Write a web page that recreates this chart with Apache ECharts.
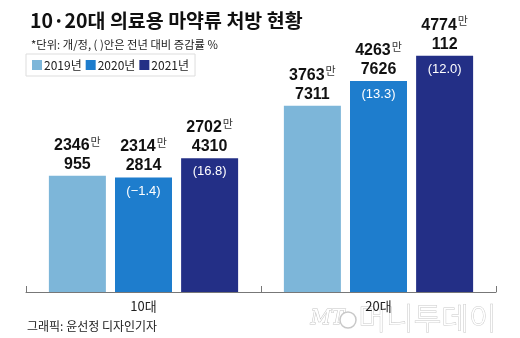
<!DOCTYPE html>
<html>
<head>
<meta charset="utf-8">
<script src="https://cdn.jsdelivr.net/npm/echarts@6/dist/echarts.min.js"></script>
<style>html,body{margin:0;padding:0;background:#fff;}#c{width:520px;height:338px;}</style>
</head>
<body>
<div id="c"></div>
<script>
const categories = ['10대', '20대'];
const seriesNames = ['2019년', '2020년', '2021년'];
const values2019 = [23460955, 37637311];
const values2020 = [23142814, 42637626];
const values2021 = [27024310, 47740112];
const change2019 = ['', ''];
const change2020 = ['−1.4', '13.3'];
const change2021 = ['16.8', '12.0'];

const colors = ['#7db6d9', '#1e7dcd', '#232f86'];
const values = [values2019, values2020, values2021];
const changes = [change2019, change2020, change2021];

const numFont = '"Liberation Sans Narrow", "Arial Narrow", "Liberation Sans", sans-serif';
const krFont = '"Noto Sans CJK KR", sans-serif';

function topLabel(p) {
  const v = p.value;
  const man = Math.floor(v / 10000);
  const rest = v % 10000;
  return '{n|' + man + '}{u|만}\n{n|' + rest + '}';
}

const chart = echarts.init(document.getElementById('c'), null, {renderer: 'canvas'});

const series = [];
seriesNames.forEach((name, i) => {
  series.push({
    name: name,
    type: 'bar',
    xAxisIndex: 0,
    data: values[i],
    barWidth: 57,
    barGap: '16%',
    itemStyle: {color: colors[i]},
    label: {
      show: true,
      position: 'top',
      distance: 2,
      formatter: topLabel,
      rich: {
        n: {fontFamily: numFont, fontWeight: 'bold', fontSize: 16, lineHeight: 19, color: '#111'},
        u: {fontFamily: krFont, fontSize: 11, lineHeight: 19, color: '#333', verticalAlign: 'top', padding: [0, 0, 0, 1]}
      }
    }
  });
});
seriesNames.forEach((name, i) => {
  series.push({
    name: 'ov' + name,
    type: 'bar',
    xAxisIndex: 1,
    data: values[i],
    barWidth: 57,
    barGap: '16%',
    silent: true,
    itemStyle: {color: 'rgba(0,0,0,0)'},
    label: {
      show: true,
      position: 'insideTop',
      distance: 7,
      formatter: p => changes[i][p.dataIndex] ? '(' + changes[i][p.dataIndex] + ')' : '',
      fontFamily: numFont,
      fontSize: 13,
      color: '#fff'
    }
  });
});

chart.setOption({
  animation: false,
  title: [
    {text: '10·20대 의료용 마약류 처방 현황', left: 25, top: 6,
     textStyle: {fontFamily: krFont, fontWeight: 'bold', fontSize: 19.5, color: '#111'}},
    {text: '*단위: 개/정, ( )안은 전년 대비 증감률 %', left: 26, top: 34,
     textStyle: {fontFamily: krFont, fontWeight: 'normal', fontSize: 11.3, color: '#222'}}
  ],
  legend: {
    data: seriesNames,
    left: 26, top: 54,
    orient: 'horizontal',
    icon: 'rect',
    itemWidth: 10, itemHeight: 10, itemGap: 4,
    padding: [5, 6],
    borderColor: '#ddd', borderWidth: 1,
    textStyle: {fontFamily: krFont, fontSize: 12, color: '#222', padding: [0, 0, 0, -3]}
  },
  grid: {left: 26, right: 24, top: 44.5, bottom: 46, containLabel: false},
  xAxis: [
    {type: 'category', data: categories,
     axisLine: {lineStyle: {color: '#777', width: 1}},
     axisTick: {show: true, inside: true, length: 6, lineStyle: {color: '#777'}},
     axisLabel: {fontFamily: krFont, fontSize: 13, color: '#222', margin: 8}},
    {type: 'category', data: categories, show: false}
  ],
  yAxis: {type: 'value', min: 0, max: 50000000, show: false, splitLine: {show: false}},
  graphic: [
    {type: 'text', left: 27, top: 320, z: 10,
     style: {text: '그래픽: 윤선정 디자인기자', fontFamily: krFont, fontSize: 12, fill: '#222'}},
    {type: 'text', left: 310, top: 308, z: -10, silent: true,
     style: {text: 'MT', fontFamily: '"DejaVu Serif", serif', fontStyle: 'italic', fontSize: 20, fill: '#fff', stroke: '#c4c4c4', lineWidth: 1}},
    {type: 'circle', shape: {cx: 348, cy: 320, r: 8}, z: -10, silent: true,
     style: {fill: 'none', stroke: '#c8c8c8', lineWidth: 1.5}},
    {type: 'text', left: 358, top: 302, z: -10, silent: true,
     style: {text: '머니투데이', fontFamily: krFont, fontWeight: 300, fontSize: 30, fill: '#fff', stroke: '#c8c8c8', lineWidth: 1}}
  ],
  series: series
});
</script>
</body>
</html>
